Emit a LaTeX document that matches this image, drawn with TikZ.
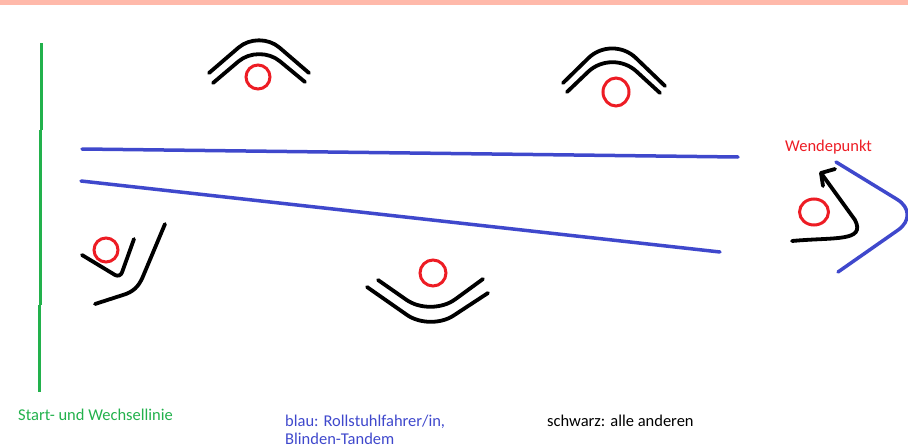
\documentclass[tikz,border=0pt]{standalone}
\usepackage{fontspec}
\setmainfont{Carlito}
\definecolor{pgreen}{RGB}{34,177,76}
\definecolor{pblue}{RGB}{63,72,204}
\definecolor{pred}{RGB}{237,28,36}
\definecolor{ppink}{RGB}{255,185,170}
\tikzset{
  greenline/.style={draw=pgreen,line width=3pt},
  blueline/.style={draw=pblue,line width=3.5pt,line cap=round},
  blackline/.style={draw=black,line width=3.8pt,line cap=round,line join=round},
  redring/.style={draw=pred,line width=3pt},
  lbl/.style={font=\fontsize{16.5}{20}\selectfont,anchor=base west,inner sep=0pt}
}
\begin{document}
\begin{tikzpicture}[x=1pt,y=-1pt]
\useasboundingbox (0,0) rectangle (908,447);
\fill[ppink] (0,0) rectangle (908,5);

% start line
\draw[greenline] (41.5,43) -- (41.5,130);
\draw[greenline] (40.5,130) -- (40.5,305);
\draw[greenline] (39.5,305) -- (39.5,392);

% blue lanes
\draw[blueline] (82,149) -- (738,157);
\draw[blueline] (81,181) -- (720,252);
\draw[blueline,rounded corners=28pt] (836,162) -- (921,214) -- (838,272);

% top-left runner
\draw[blackline,rounded corners=27pt] (209,73) -- (259,30) -- (309,73);
\draw[blackline,rounded corners=27pt] (213,83) -- (259,44) -- (305,82);
\draw[redring] (258,77) circle[radius=12];

% top-right runner
\draw[blackline,rounded corners=33pt] (563,83) -- (612,35) -- (665,86);
\draw[blackline,rounded corners=33pt] (567,92) -- (612,49) -- (660,93);
\draw[redring] (616,92) ellipse[x radius=13,y radius=14];

% bottom runner
\draw[blackline,rounded corners=30pt] (378,280) -- (431,317) -- (483,279);
\draw[blackline,rounded corners=28pt] (367,287) -- (430,331) -- (488,293);
\draw[redring] (433,273) circle[radius=13];

% left runner
\draw[blackline,rounded corners=6pt] (82,255) -- (120,278) -- (134,239);
\draw[blackline] (95,304) -- (126,294) .. controls (136,290) and (140,284) .. (144,274) -- (165,224);
\draw[redring] (106,250) circle[radius=12];

% turning point
\draw[redring] (814,212) ellipse[x radius=14.5,y radius=13];
\draw[blackline] (792,241) .. controls (835,237) and (866,242) .. (855,220) -- (821,173);
\draw[blackline] (835,169) -- (821,173) -- (823,186);

% labels
\node[lbl,text=pred] (wende) at (785,151) {Wendepunkt};
\node[lbl,text=pgreen] (start) at (18,420) {Start- und Wechsellinie};
\node[lbl,text=pblue] (blau) at (285,426) {blau: Rollstuhlfahrer/in,};
\node[lbl,text=pblue] (tandem) at (285,444) {Blinden-Tandem};
\node[lbl,text=black] (schwarz) at (547,426) {schwarz: alle anderen};
\end{tikzpicture}
\end{document}
